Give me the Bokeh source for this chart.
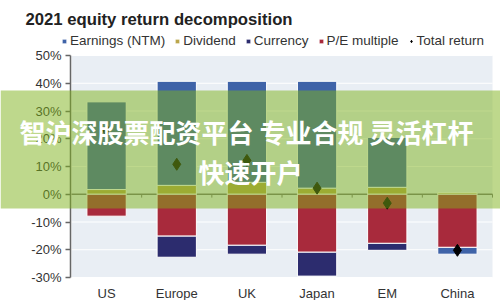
import numpy as np
from bokeh.plotting import figure
from bokeh.models import (ColumnDataSource, Range1d, Label, Legend, LegendItem,
                          BoxAnnotation, FixedTicker, LinearAxis)
from bokeh.embed import file_html
from bokeh.resources import INLINE

# ---------------- data ----------------
categories = ["US", "Europe", "UK", "Japan", "EM", "China"]
earnings = [31.6, 37.5, 36.4, 38.5, 18.0, -2.5]
dividend = [1.7, 3.2, 4.3, 2.2, 2.5, 0.6]
currency = [0.0, -7.6, -3.2, -8.6, -2.5, 0.0]
pe_multiple = [-7.9, -15.1, -18.4, -20.9, -17.7, -19.1]
total_return = [23.0, 10.8, 12.2, 2.2, -3.2, -20.2]
y_ticks = [-30, -20, -10, 0, 10, 20, 30, 40, 50]
series_names = ["Earnings (NTM)", "Dividend", "Currency", "P/E multiple", "Total return"]
title_text = "2021 equity return decomposition"
watermark_1 = "智沪深股票配资平台 专业合规 灵活杠杆"
watermark_2 = "快速开户"

C_EARN = "#3f63a8"
C_DIV = "#bba64c"
C_CUR = "#2c2c6e"
C_PE = "#a82a3c"
FONT = "Liberation Sans"

# ---------------- layout constants (pixels of the 500x300 canvas) ----------------
W_PX, H_PX = 500, 300
PLOT_L, PLOT_R, PLOT_T, PLOT_B = 71, 492, 55, 277
N = len(categories)
PX = (PLOT_R - PLOT_L) / N          # pixels per category
PY = (PLOT_B - PLOT_T) / (y_ticks[-1] - y_ticks[0])  # pixels per percent


def dx(cx):
    return -0.5 + (cx - PLOT_L) / PX


def dy(cy):
    return y_ticks[-1] - (cy - PLOT_T) / PY


xs = np.arange(N)

# ---------------- stacking ----------------
earn = np.array(earnings, float)
div = np.array(dividend, float)
cur = np.array(currency, float)
pe = np.array(pe_multiple, float)

neg_cur_bot = pe + cur
earn_bottom = np.where(earn >= 0, div, neg_cur_bot)
earn_top = earn_bottom + earn


def src(bottom, top):
    bottom = np.asarray(bottom, float)
    top = np.asarray(top, float)
    keep = np.abs(top - bottom) > 1e-9
    return ColumnDataSource(dict(x=xs[keep], bottom=bottom[keep], top=top[keep]))


p = figure(width=W_PX, height=H_PX, title=None,
           x_range=Range1d(dx(0), dx(W_PX)), y_range=Range1d(dy(H_PX), dy(0)),
           output_backend="svg", toolbar_location=None, min_border=0,
           x_axis_type=None, y_axis_type=None)
p.background_fill_color = "white"
p.border_fill_color = "white"
p.outline_line_color = None
p.grid.visible = False

# plot-area background and white gridlines
p.quad(left=-0.5, right=N - 0.5, bottom=y_ticks[0], top=y_ticks[-1],
       fill_color="#e9eef4", line_color=None, level="underlay")
p.segment(x0=-0.5, x1=N - 0.5, y0=y_ticks, y1=y_ticks, line_color="white",
          line_width=1.2, level="underlay")

# axes (fixed inside the canvas)
yaxis = LinearAxis(fixed_location=dx(70), bounds=(y_ticks[0], y_ticks[-1]),
                   ticker=FixedTicker(ticks=y_ticks))
yaxis.major_label_overrides = {t: f"{t}%" for t in y_ticks}
yaxis.axis_line_color = "#666666"
yaxis.axis_line_width = 1.5
yaxis.major_tick_line_color = "#666666"
yaxis.major_tick_line_width = 1.5
yaxis.major_tick_out = 5
yaxis.major_tick_in = 0
yaxis.minor_tick_line_color = None
yaxis.major_label_standoff = 4
yaxis.major_label_text_font = FONT
yaxis.major_label_text_font_size = "13px"
yaxis.major_label_text_color = "#333333"
p.add_layout(yaxis, "left")

xaxis = LinearAxis(fixed_location=y_ticks[0], bounds=(-0.5, N - 0.5),
                   ticker=FixedTicker(ticks=list(range(N))))
xaxis.major_label_overrides = {i: c for i, c in enumerate(categories)}
xaxis.axis_line_color = None
xaxis.major_tick_line_color = None
xaxis.major_tick_out = 0
xaxis.major_tick_in = 0
xaxis.minor_tick_line_color = None
xaxis.major_label_standoff = 8
xaxis.major_label_text_font = FONT
xaxis.major_label_text_font_size = "13px"
xaxis.major_label_text_color = "#333333"
p.add_layout(xaxis, "below")

# zero line with category-boundary ticks
p.segment(x0=-0.5, x1=N - 0.5, y0=0, y1=0, line_color="#777777", line_width=1.5)
p.segment(x0=xs + 0.5, x1=xs + 0.5, y0=0, y1=-1.2, line_color="#777777", line_width=1)

BW = 0.56
r_div = p.vbar(x="x", width=BW, bottom="bottom", top="top", source=src(np.zeros(N), div),
               fill_color=C_DIV, line_color="white", line_width=1)
r_earn = p.vbar(x="x", width=BW, bottom="bottom", top="top", source=src(earn_bottom, earn_top),
                fill_color=C_EARN, line_color="white", line_width=1)
r_pe = p.vbar(x="x", width=BW, bottom="bottom", top="top", source=src(np.zeros(N), pe),
              fill_color=C_PE, line_color="white", line_width=1)
r_cur = p.vbar(x="x", width=BW, bottom="bottom", top="top", source=src(pe, neg_cur_bot),
               fill_color=C_CUR, line_color="white", line_width=1)
tsrc = ColumnDataSource(dict(x=xs, total=total_return))
r_tot = p.scatter(x="x", y="total", source=tsrc, marker="diamond", size=12,
                  fill_color="black", line_color="black")

legend = Legend(items=[
    LegendItem(label=series_names[0], renderers=[r_earn]),
    LegendItem(label=series_names[1], renderers=[r_div]),
    LegendItem(label=series_names[2], renderers=[r_cur]),
    LegendItem(label=series_names[3], renderers=[r_pe]),
    LegendItem(label=series_names[4], renderers=[r_tot]),
], orientation="horizontal", location=(61, H_PX - 48))
legend.glyph_width = 6
legend.glyph_height = 6
legend.label_standoff = 3
legend.spacing = 9
legend.padding = 0
legend.margin = 0
legend.label_height = 14
legend.label_text_font = FONT
legend.label_text_font_size = "13.5px"
legend.label_text_color = "#333333"
legend.border_line_color = None
legend.background_fill_alpha = 0
p.add_layout(legend, "center")

p.add_layout(Label(x=dx(25), y=dy(19), text=title_text, text_font=FONT, text_font_size="16.7px",
                   text_font_style="bold", text_color="#222222", text_align="left",
                   text_baseline="middle"))

# translucent watermark band across the whole picture
p.add_layout(BoxAnnotation(top=dy(90), bottom=dy(208),
                           fill_color="#7db119", fill_alpha=0.5, line_color=None, level="overlay"))
for txt, cx, cy in [(watermark_1, 246, 131), (watermark_2, 250, 171)]:
    p.add_layout(Label(x=dx(cx), y=dy(cy), text=txt, text_font="Noto Sans CJK SC",
                       text_font_size="26px", text_font_style="bold", text_color="white",
                       text_align="center", text_baseline="middle", level="overlay"))

open("out.html", "w").write(file_html(p, INLINE))
